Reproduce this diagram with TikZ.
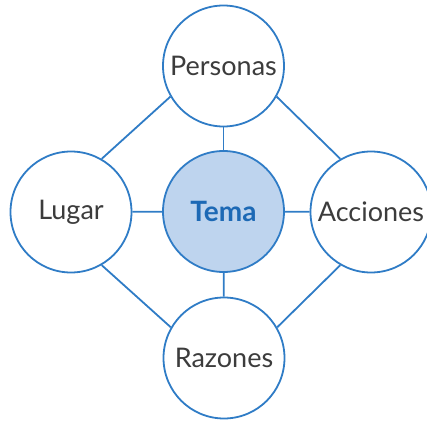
\documentclass[tikz,border=0pt]{standalone}
\usepackage{fontspec}
\setmainfont{Lato}
\definecolor{lineblue}{HTML}{2F7CC6}
\definecolor{fillblue}{HTML}{BED4EE}
\definecolor{textblue}{HTML}{1D69B5}
\definecolor{textgray}{HTML}{3C3C3C}
\begin{document}
\begin{tikzpicture}[x=1pt,y=-1pt,
  bubble/.style={circle, draw=lineblue, line width=1.8pt, fill=white, minimum size=121pt, inner sep=0pt, font=\fontsize{27}{30}\selectfont, text=textgray},
  center/.style={bubble, fill=fillblue, text=textblue, font=\fontsize{28}{30}\selectfont\bfseries},
  link/.style={draw=lineblue, line width=1.8pt}]
\useasboundingbox (0,0) rectangle (427,422);
\node[center] (tema) at (223.5,211.5) {Tema};
\node[bubble] (personas) at (223.5,66) {Personas};
\node[bubble] (lugar) at (71,212) {Lugar};
\node[bubble] (acciones) at (371,212) {Acciones};
\node[bubble] (razones) at (224,358) {Razones};
\draw[link] (tema) -- (personas);
\draw[link] (tema) -- (lugar);
\draw[link] (tema) -- (acciones);
\draw[link] (tema) -- (razones);
\draw[link] (lugar.60) -- (personas.210);
\draw[link] (personas.330) -- (acciones.120);
\draw[link] (acciones.240) -- (razones.30);
\draw[link] (razones.150) -- (lugar.300);
\end{tikzpicture}
\end{document}
